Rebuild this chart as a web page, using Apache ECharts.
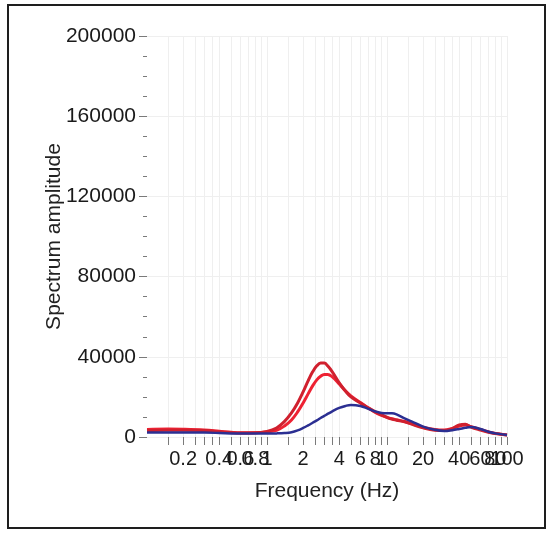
<!DOCTYPE html>
<html>
<head>
<meta charset="utf-8">
<script src="https://cdn.jsdelivr.net/npm/echarts@6/dist/echarts.min.js"></script>
<style>
  html, body { margin: 0; padding: 0; background: #fff; }
  #chart { width: 553px; height: 536px; }
</style>
</head>
<body>
<div id="chart"></div>
<script>
// Frequency samples (Hz)
const freq = [0.1, 0.15, 0.2, 0.3, 0.4, 0.5, 0.6, 0.8, 1.0, 1.2, 1.4, 1.6, 1.8, 2.0, 2.2, 2.4, 2.6, 2.8, 3.0, 3.2, 3.5, 4.0, 4.5, 5.0, 6.0, 7.0, 8.0, 9.0, 10, 11, 12, 14, 16, 20, 25, 30, 35, 40, 45, 50, 60, 70, 80, 100];

// Spectrum amplitudes for each record
const redUpper = [3200, 3400, 3400, 3300, 2600, 2200, 2000, 2100, 2800, 4500, 7800, 12000, 17000, 22500, 28000, 32500, 35500, 36900, 36900, 35500, 32500, 27000, 23000, 20000, 17000, 14500, 12500, 11000, 9800, 8900, 8400, 7600, 6400, 4600, 3400, 3200, 4200, 6000, 6300, 5000, 3500, 2400, 1700, 1000];
const redLower = [3800, 4000, 3900, 3500, 2900, 2400, 2100, 2100, 2500, 3300, 5500, 8500, 12500, 17000, 21500, 25500, 28500, 30300, 31200, 31200, 30000, 26500, 23000, 20500, 17200, 14500, 12200, 10800, 9800, 9100, 8600, 7700, 6700, 4900, 3800, 3500, 4300, 5500, 6000, 5200, 3800, 2600, 1800, 1000];
const blue = [2200, 2300, 2300, 2200, 2000, 1800, 1700, 1700, 1700, 1800, 2000, 2400, 3300, 4500, 5800, 7100, 8300, 9500, 10500, 11500, 12800, 14500, 15500, 16000, 15500, 14000, 12700, 12000, 11800, 11800, 11300, 9300, 7800, 5200, 3600, 3000, 3400, 4000, 4600, 5000, 4000, 2600, 1800, 1000];

// Axis ticks and labels
const xTickValues = [0.15, 0.2, 0.25, 0.3, 0.35, 0.4, 0.5, 0.6, 0.7, 0.8, 0.9, 1,
                     1.5, 2, 2.5, 3, 3.5, 4, 5, 6, 7, 8, 9, 10,
                     15, 20, 25, 30, 35, 40, 50, 60, 70, 80, 90, 100];
// Labels are split over rows on the same scale so the crowded end labels all stay visible
const xLabelRowA = [0.2, 0.4, 0.6, 0.8, 1, 2, 4, 6, 8, 10, 20, 40, 100];
const xLabelRowB = [60];
const xLabelRowC = [80];

const pairs = ys => freq.map((f, i) => [f, ys[i]]);
const FONT = '"Liberation Sans", Arial, sans-serif';

const chart = echarts.init(document.getElementById('chart'), null, { renderer: 'canvas' });

const labelStyle = {
  fontFamily: FONT,
  fontSize: 20,
  color: '#1a1a1a',
  margin: 12,
  hideOverlap: false,
  showMinLabel: true,
  showMaxLabel: true,
  formatter: v => String(+(+v).toPrecision(3))
};

// Extra label-only log axis covering the same range
const labelAxis = values => ({
  type: 'log',
  logBase: 10,
  min: 0.1,
  max: 100,
  position: 'bottom',
  axisLine: { show: false },
  axisTick: { show: false },
  splitLine: { show: false },
  axisLabel: Object.assign({ customValues: values }, labelStyle)
});

chart.setOption({
  animation: false,
  backgroundColor: '#ffffff',
  textStyle: { fontFamily: FONT },
  grid: { left: 147, right: 46, top: 36, bottom: 99, containLabel: false },
  graphic: [{
    type: 'rect',
    shape: { x: 8, y: 5, width: 537, height: 523 },
    style: { fill: 'none', stroke: '#1e1e1e', lineWidth: 2 },
    silent: true,
    z: 100
  }],
  xAxis: [{
    type: 'log',
    logBase: 10,
    min: 0.1,
    max: 100,
    name: 'Frequency (Hz)',
    nameLocation: 'middle',
    nameGap: 44,
    nameMoveOverlap: false,
    nameTextStyle: { fontFamily: FONT, fontSize: 21, color: '#222' },
    axisLine: { show: false },
    axisTick: {
      show: true,
      length: 8,
      customValues: xTickValues,
      lineStyle: { color: '#7a7a7a', width: 1 }
    },
    axisLabel: Object.assign({ customValues: xLabelRowA }, labelStyle),
    splitLine: { show: true, lineStyle: { color: '#efefef', width: 1 } }
  }, labelAxis(xLabelRowB), labelAxis(xLabelRowC)],
  yAxis: {
    type: 'value',
    min: 0,
    max: 200000,
    interval: 40000,
    name: 'Spectrum amplitude',
    nameLocation: 'middle',
    nameRotate: 90,
    nameGap: 82,
    nameMoveOverlap: false,
    nameTextStyle: { fontFamily: FONT, fontSize: 21, color: '#222' },
    axisLine: { show: false },
    axisTick: { show: true, length: 8, lineStyle: { color: '#7a7a7a' } },
    minorTick: { show: true, splitNumber: 4, length: 4, lineStyle: { color: '#7a7a7a' } },
    axisLabel: {
      fontFamily: FONT, fontSize: 21, color: '#1a1a1a', margin: 11,
      formatter: v => String(v)
    },
    splitLine: { show: true, lineStyle: { color: '#efefef', width: 1 } }
  },
  series: [
    {
      type: 'line', data: pairs(redLower), smooth: 0.4, showSymbol: false,
      lineStyle: { color: '#ee2233', width: 3 }, z: 2
    },
    {
      type: 'line', data: pairs(redUpper), smooth: 0.4, showSymbol: false,
      lineStyle: { color: '#d0202e', width: 3 }, z: 3
    },
    {
      type: 'line', data: pairs(blue), smooth: 0.4, showSymbol: false,
      lineStyle: { color: '#2b2f92', width: 2.5 }, z: 4
    }
  ]
});
</script>
</body>
</html>
